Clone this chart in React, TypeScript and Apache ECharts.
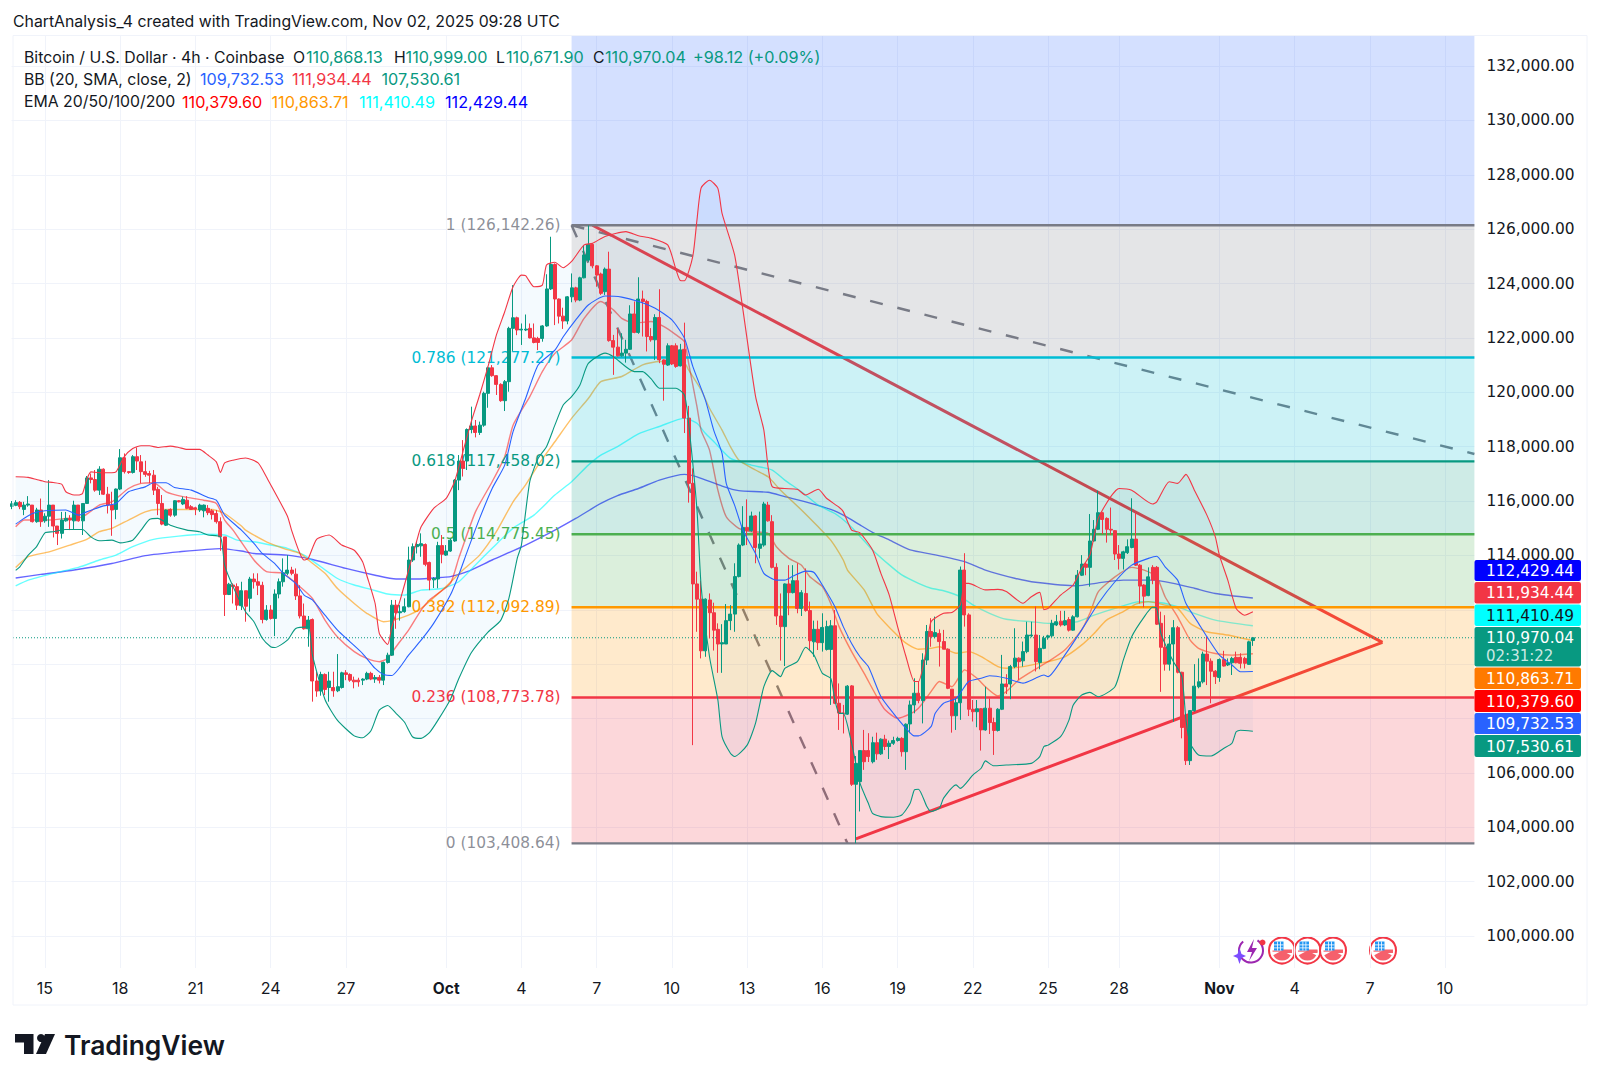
import React, { useEffect, useRef } from "react";
import * as echarts from "echarts";

const FONT = "Inter, 'Noto Sans', sans-serif";
const NUM_FONT = "'DejaVu Sans', Inter, sans-serif";
const UP = "#089981";
const DOWN = "#F23645";

// open, close, low, high — thousands of USD, one row per 4h slot
const candles: number[][] = [
[115.8,115.9,115.7,116.0],[115.84,115.94,115.81,116.03],[115.95,115.79,115.7,116.0],[115.69,115.85,115.48,115.97],[115.85,115.89,115.79,116.18],
[115.85,115.24,115.21,115.85],[115.24,115.67,115.2,115.75],[115.67,115.24,115.05,116.09],[115.27,115.44,115.2,115.55],[115.44,115.85,115.05,116.77],
[115.85,115.08,114.66,115.85],[115.08,114.81,114.38,115.08],[114.81,115.3,114.62,115.6],[115.27,115.36,115.24,115.6],[115.36,115.3,114.93,115.48],
[115.27,115.85,114.95,116.01],[115.85,115.27,115.24,115.85],[115.27,115.91,114.75,115.91],[115.91,116.85,115.89,116.92],[116.85,116.79,116.65,117.01],
[116.79,116.4,116.34,117.14],[116.4,117.17,116.22,117.28],[117.17,116.25,116.22,117.2],[116.25,115.85,115.54,116.52],[115.85,115.67,114.72,116.34],
[115.69,116.44,115.33,116.46],[116.44,117.59,116.4,117.91],[117.59,117.08,117.01,117.75],[117.08,117.05,117.0,117.1],[117.05,117.63,117.01,117.69],
[117.63,117.47,117.14,117.97],[117.44,117.08,116.65,117.69],[117.08,116.98,116.89,117.48],[117.01,116.95,116.65,117.11],[116.95,116.4,116.22,117.14],
[116.43,115.91,115.48,116.52],[115.91,115.15,115.11,116.22],[115.11,115.67,115.08,115.69],[115.69,115.48,115.42,115.73],[115.48,116.01,115.42,116.03],
[116.01,115.97,115.95,116.03],[115.89,116.06,115.85,116.16],[116.03,115.73,115.7,116.18],[115.79,115.69,115.67,115.85],[115.75,115.7,115.48,115.79],
[115.67,115.85,115.6,115.9],[115.64,115.85,115.4,115.87],[115.73,115.57,115.48,115.85],[115.64,115.5,115.32,115.7],[115.54,115.24,115.17,115.67],
[115.24,114.68,114.17,115.4],[114.68,112.56,111.77,114.68],[112.56,112.94,112.54,112.99],[112.91,112.85,112.23,112.97],[112.85,112.17,111.99,112.97],
[112.15,112.7,111.99,113.03],[112.7,112.13,111.56,112.7],[112.42,113.13,111.93,113.21],[113.13,113.03,112.78,113.34],[113.03,112.9,112.54,113.34],
[112.9,111.64,111.5,113.03],[111.64,111.99,111.6,112.17],[111.99,111.68,111.64,112.17],[111.68,112.58,111.03,112.75],[112.58,113.03,112.42,113.15],
[113.03,113.36,112.85,113.89],[113.34,113.46,113.27,114.01],[113.46,113.34,113.27,113.58],[113.31,112.51,112.36,113.52],[112.51,111.77,111.68,112.9],
[111.77,111.3,111.27,112.23],[111.3,111.62,110.64,111.77],[111.64,109.38,108.62,111.68],[109.38,109.01,108.8,109.72],[109.01,109.62,108.84,109.72],
[109.62,109.07,108.86,109.66],[109.14,109.38,108.62,109.72],[109.14,109.02,108.8,109.72],[109.02,109.17,108.97,110.37],[109.14,109.68,109.1,109.72],
[109.68,109.62,109.41,109.78],[109.62,109.41,109.35,109.66],[109.41,109.35,109.11,109.54],[109.41,109.35,109.17,109.5],[109.41,109.45,109.23,109.48],
[109.45,109.66,109.41,109.72],[109.66,109.45,109.41,109.72],[109.45,109.51,109.31,109.6],[109.51,109.41,109.29,109.6],[109.41,110.06,109.23,110.09],
[110.06,110.33,110.02,110.42],[110.33,112.17,110.3,112.36],[112.17,111.89,111.3,112.36],[111.89,111.93,111.6,112.17],[111.93,112.11,111.89,112.42],
[112.11,113.83,112.09,114.32],[113.83,114.32,113.76,114.44],[114.32,114.4,114.07,114.5],[114.35,114.43,113.95,114.81],[114.4,113.67,113.6,114.44],
[113.74,113.09,112.72,113.77],[113.1,113.15,112.8,113.2],[113.13,114.36,112.79,114.5],[114.36,114.04,113.71,114.75],[114.01,114.16,113.98,114.38],
[114.16,114.56,114.13,114.62],[114.53,116.77,114.5,116.81],[116.77,117.47,116.4,117.69],[117.47,117.2,116.9,118.24],[117.47,118.63,117.14,118.67],
[118.63,118.76,118.49,119.47],[118.76,118.52,118.34,118.98],[118.52,118.79,118.43,118.92],[118.79,119.96,118.73,120.02],[119.96,120.9,119.43,120.94],
[120.9,120.61,120.57,121.0],[120.61,120.29,119.9,120.63],[120.29,119.69,119.65,120.33],[119.69,120.39,119.31,120.45],[120.39,122.35,120.02,122.41],
[122.35,122.74,121.52,123.94],[122.74,122.29,122.1,122.78],[122.29,122.32,121.74,122.53],[122.29,122.32,122.25,122.86],[122.35,122.0,121.98,122.53],
[122.0,121.83,121.8,122.53],[121.98,121.83,121.55,122.04],[121.98,122.44,121.86,122.47],[122.44,123.8,122.41,124.34],[123.8,124.7,123.76,125.72],
[124.7,123.43,122.47,124.74],[123.43,122.8,122.53,123.45],[122.8,122.62,122.33,123.11],[122.62,123.51,122.5,123.54],[123.51,123.84,123.31,124.37],
[123.84,123.39,123.31,123.88],[123.39,124.21,123.35,124.25],[124.21,125.05,124.19,125.41],[124.86,125.44,124.8,126.14],[125.44,124.65,124.56,125.48],
[124.65,124.31,123.88,124.68],[124.35,123.64,123.58,124.4],[123.7,124.53,123.58,124.59],[124.53,121.9,121.86,125.17],[121.9,121.66,120.64,122.11],
[121.66,121.34,121.31,122.36],[121.34,121.44,121.31,122.17],[121.44,121.58,121.09,121.93],[121.58,122.88,121.56,123.2],[122.88,122.2,122.17,123.34],
[122.2,123.43,122.15,124.23],[123.43,123.34,122.05,123.74],[123.34,122.05,121.5,123.4],[122.05,121.93,121.86,122.36],[121.93,122.75,121.19,122.87],
[122.75,121.19,121.07,123.79],[121.19,121.03,119.69,121.21],[121.0,121.71,120.97,121.8],[121.71,121.04,121.0,121.74],[121.71,120.95,120.9,121.8],
[120.97,121.56,120.95,121.78],[121.58,119.05,118.5,122.56],[119.05,116.65,115.94,119.5],[116.65,112.95,107.02,117.2],[112.95,112.39,111.19,113.4],
[112.39,110.49,110.21,113.07],[110.49,112.39,110.27,112.42],[112.36,111.89,110.95,112.6],[111.89,111.25,110.5,112.26],[111.28,110.74,109.68,111.5],
[110.74,110.79,109.68,111.47],[110.74,111.6,110.74,112.21],[111.6,111.84,111.25,112.17],[111.84,113.22,111.19,113.71],[113.22,114.38,113.19,114.44],
[114.38,115.03,114.34,115.81],[115.03,114.91,114.38,116.06],[114.91,115.45,114.87,115.61],[115.45,114.29,113.71,115.48],[114.26,114.42,113.89,115.61],
[114.38,115.89,114.32,115.97],[115.85,115.27,115.24,115.97],[115.24,113.56,113.52,115.48],[113.56,111.77,111.44,113.71],[111.77,111.38,110.13,112.6],
[111.38,112.95,109.93,112.97],[112.95,112.63,111.8,113.64],[112.63,113.07,112.6,113.64],[113.07,112.05,111.87,113.71],[112.05,112.63,111.77,112.72],
[112.6,111.97,111.93,113.52],[111.97,110.86,110.52,112.3],[110.82,111.28,110.27,111.6],[111.28,110.79,110.52,111.6],[110.79,111.35,110.46,111.87],
[110.54,111.38,110.5,111.6],[110.54,111.41,108.5,111.62],[111.41,108.56,108.53,111.99],[108.56,108.2,107.58,109.29],[108.2,108.19,107.45,108.5],
[108.16,109.19,108.13,109.23],[109.2,105.58,105.52,109.23],[105.58,106.35,103.41,106.62],[105.68,106.82,104.58,106.82],[106.82,106.41,106.11,107.58],
[106.82,106.6,106.4,107.46],[106.41,107.11,106.35,107.33],[107.11,106.7,106.48,107.48],[106.7,107.24,106.66,107.27],[107.24,106.97,106.84,107.4],
[106.97,107.09,106.51,107.19],[107.09,107.19,107.03,107.33],[107.19,107.27,107.15,107.33],[107.27,106.78,106.6,107.31],[106.78,107.79,106.11,107.82],
[107.8,108.5,107.46,108.66],[108.5,108.93,108.19,109.48],[108.93,108.66,108.56,109.36],[108.66,110.15,107.82,110.4],[110.15,111.2,109.97,111.44],
[111.2,111.01,110.64,111.69],[111.01,111.16,110.95,111.75],[111.13,110.83,109.91,111.28],[110.83,110.55,110.55,111.26],[110.55,109.11,109.08,110.58],
[109.08,108.1,107.48,109.08],[108.1,108.58,107.58,108.74],[108.58,113.46,107.95,113.59],[113.46,111.81,111.38,114.08],[111.81,108.34,108.09,111.87],
[108.34,108.25,107.89,108.68],[108.25,108.36,107.68,108.68],[108.36,107.58,106.82,108.38],[107.58,108.38,107.55,109.17],[108.38,107.85,107.43,108.74],
[107.85,107.56,106.66,108.03],[107.56,108.34,107.52,108.38],[108.34,109.27,108.31,110.34],[109.27,109.17,108.9,109.63],[109.27,109.91,108.71,109.97],
[109.91,110.22,109.85,111.32],[110.22,110.09,109.42,110.25],[110.12,110.46,109.91,110.83],[110.46,111.07,110.4,111.56],[111.04,111.07,110.99,111.56],
[111.07,110.09,109.73,112.12],[110.06,110.58,109.81,111.07],[110.58,110.95,110.55,111.04],[110.99,111.04,110.9,111.08],[111.04,111.5,110.99,111.63],
[111.44,111.56,111.4,111.81],[111.58,111.44,111.38,111.96],[111.44,111.6,111.4,111.96],[111.64,111.25,111.2,111.73],[111.25,111.74,111.23,111.8],
[111.74,113.27,111.72,113.46],[113.27,113.68,113.24,114.01],[113.68,113.56,113.27,113.73],[113.56,114.53,112.85,115.52],[114.53,114.96,114.5,115.3],
[114.96,115.57,114.93,116.38],[115.57,115.32,114.78,115.6],[115.36,114.96,114.47,115.4],[114.96,114.93,114.75,115.76],[114.91,114.05,113.83,114.93],
[114.05,113.89,113.48,114.38],[113.89,114.13,113.48,114.17],[114.1,114.32,114.05,114.59],[114.29,114.6,114.26,116.1],[114.6,113.64,113.61,115.58],
[113.64,112.87,112.23,113.68],[112.91,112.5,112.09,112.94],[112.52,113.21,112.5,113.56],[113.56,113.09,112.94,113.64],[113.56,111.47,111.44,113.61],
[111.5,110.62,108.98,111.93],[110.62,110.0,109.76,111.8],[110.0,110.74,109.76,111.07],[110.74,111.34,107.88,111.62],[111.34,109.7,109.66,111.4],
[109.7,107.67,107.27,109.72],[108.13,106.45,106.29,108.19],[106.45,108.29,106.29,108.31],[108.29,109.19,108.25,110.0],[109.17,109.35,109.11,110.21],
[109.35,110.37,109.29,110.46],[110.37,110.11,109.23,111.01],[110.11,109.74,108.56,110.21],[109.74,109.54,109.27,109.78],[109.51,110.17,109.35,110.21],
[110.17,109.93,109.91,110.49],[109.97,110.05,109.93,110.21],[110.05,110.21,109.6,110.27],[110.25,110.05,110.03,110.46],[110.25,110.03,109.84,110.4],
[110.21,110.03,109.84,110.27],[109.99,110.82,109.97,110.86],[110.868,110.97,110.672,110.999],
];

const bbUpper: number[][] = [[1,116.89],[4,116.87],[6,116.79],[8,116.71],[10,116.68],[12,116.62],[13,116.34],[15,116.22],[16,116.22],[17,116.28],[18,116.79],[19,117.07],[21,117.04],[24,117.04],[25,117.07],[27,117.63],[29,117.93],[31,118.03],[33,118.03],[35,117.97],[38,118.02],[40,117.97],[42,117.9],[45,117.9],[47,117.69],[49,117.44],[50,117.05],[51,117.4],[53,117.5],[56,117.58],[59,117.4],[61,116.88],[66,115.45],[67,114.93],[69,114.07],[70,113.83],[71,113.89],[73,114.59],[76,114.75],[79,114.38],[82,114.19],[84,113.77],[85,113.27],[87,112.23],[88,111.13],[90,110.72],[91,111.37],[93,112.36],[95,113.46],[97,114.56],[98,115.05],[101,115.73],[104,116.1],[106,116.71],[108,117.81],[110,118.92],[112,119.9],[114,120.94],[116,122.1],[118,122.96],[120,123.88],[122,124.31],[123,124.29],[125,123.88],[127,123.94],[128,124.68],[130,124.78],[132,124.58],[134,124.81],[137,125.42],[139,125.48],[142,125.73],[147,125.91],[150,125.76],[153,125.67],[157,125.42],[159,124.5],[160,124.11],[161,124.1],[163,125.0],[164,126.34],[165,127.52],[167,127.8],[169,127.5],[170,126.58],[173,125.05],[175,123.03],[178,119.86],[180,118.61],[181,117.26],[182,116.53],[185,116.46],[188,116.43],[190,116.22],[193,116.43],[195,116.1],[198,115.77],[199,115.61],[201,114.93],[203,114.83],[206,114.2],[208,113.34],[210,112.54],[212,111.38],[214,110.28],[216,109.36],[217,109.36],[219,110.64],[220,111.56],[223,111.87],[225,111.9],[227,112.18],[228,112.97],[229,112.97],[233,112.73],[236,112.75],[238,112.67],[242,112.24],[244,112.48],[246,112.64],[247,112],[248,112.05],[251,112.54],[254,112.91],[256,113.52],[258,114.01],[260,115.36],[263,116.16],[265,116.46],[268,116.4],[273,115.89],[274,115.97],[277,116.71],[279,116.65],[281,116.98],[283,116.4],[286,115.48],[288,114.69],[289,114],[291,113.09],[293,112.05],[295,111.8],[297,111.93]];
const bbLower: number[][] = [[1,113.45],[2,113.58],[4,114.01],[6,114.32],[8,114.83],[10,114.87],[13,114.95],[17,114.95],[19,114.68],[21,114.54],[24,114.56],[26,114.46],[29,114.56],[31,114.93],[33,115.32],[35,115.36],[38,115.11],[42,114.93],[45,114.87],[47,114.75],[50,114.68],[51,113.64],[53,112.85],[56,111.93],[58,111.56],[60,110.95],[62,110.64],[63,110.61],[66,110.88],[68,111.31],[71,111.37],[72,110.33],[75,108.7],[78,107.93],[82,107.36],[84,107.29],[86,107.55],[88,108.31],[90,108.48],[92,108.19],[94,107.87],[96,107.32],[98,107.27],[100,107.48],[102,107.93],[105,108.7],[107,109.46],[110,110.42],[114,111.18],[117,111.6],[119,112.42],[121,113.89],[122,114.38],[124,116.71],[126,117.57],[128,118],[130,118.79],[132,119.53],[134,119.84],[136,120.27],[138,121.06],[142,121.44],[144,121.31],[149,120.76],[151,120.76],[153,120.5],[155,120.15],[159,120.15],[161,119.9],[162,118.86],[164,115.67],[165,112.85],[167,110.27],[169,108.68],[170,107.33],[172,106.72],[173,106.6],[176,107.02],[178,107.82],[180,109.17],[182,109.76],[184,109.54],[185,109.84],[188,110.09],[190,110.62],[192,110.33],[194,109.66],[196,109.48],[197,108.68],[198,108.19],[199,108.19],[201,107.09],[203,105.62],[205,104.88],[206,104.51],[208,104.39],[211,104.37],[213,104.45],[215,104.88],[216,105.37],[217,105.4],[219,104.76],[220,104.58],[222,104.7],[223,105.07],[226,105.56],[227,105.43],[230,105.92],[232,106.17],[233,106.44],[235,106.26],[238,106.29],[244,106.35],[246,106.6],[247,106.97],[248,107.02],[251,107.33],[253,107.94],[254,108.49],[256,108.86],[258,108.96],[260,108.8],[264,109.17],[266,110.15],[268,111.01],[271,111.74],[273,112.09],[274,112.05],[275,111.13],[277,110.39],[278,110.09],[280,109.54],[281,107.94],[282,107.09],[284,106.66],[287,106.62],[290,106.9],[292,107.09],[293,107.51],[294,107.57],[297,107.53]];
const bbBasis: number[][] = [[1,115.15],[3,115.36],[5,115.54],[8,115.64],[13,115.67],[16,115.48],[18,115.6],[22,115.82],[25,115.91],[28,116.34],[32,116.52],[34,116.67],[37,116.67],[39,116.5],[43,116.4],[47,116.13],[49,116.03],[51,115.48],[55,114.93],[58,114.44],[60,114.07],[63,113.7],[65,113.34],[68,112.97],[70,112.54],[72,112.36],[75,111.8],[78,111.25],[81,110.82],[84,110.39],[87,109.84],[89,109.62],[91,109.58],[93,109.9],[95,110.33],[98,110.88],[101,111.5],[105,112.54],[107,113.28],[109,114.13],[112,115.36],[115,116.46],[118,117.32],[120,118.55],[123,119.77],[126,121],[130,121.55],[132,122.04],[135,122.66],[138,123.21],[142,123.54],[146,123.5],[150,123.34],[154,123.09],[158,122.66],[161,121.99],[163,120.95],[166,119.72],[168,118.61],[170,117.75],[171,116.65],[173,115.85],[175,114.93],[178,114.07],[180,113.34],[183,113.09],[185,113.09],[187,113.24],[190,113.42],[192,113.37],[194,112.91],[197,112.11],[199,111.38],[201,110.76],[203,110.27],[205,109.91],[208,108.81],[211,108.19],[214,107.64],[216,107.36],[217,107.36],[220,107.7],[221,108.19],[223,108.56],[226,108.74],[229,109.36],[232,109.48],[234,109.57],[238,109.48],[242,109.3],[245,109.48],[247,109.6],[248,109.54],[252,110.33],[256,111.25],[260,112.23],[264,113.03],[268,113.64],[272,113.89],[274,113.97],[276,113.58],[279,113.09],[281,112.23],[284,111.5],[286,111.01],[289,110.33],[292,109.97],[294,109.72],[297,109.73]];
const ema20: number[][] = [[1,115.05],[3,115.3],[6,115.3],[9,115.3],[13,115.36],[17,115.42],[21,115.85],[24,115.97],[28,116.46],[31,116.65],[34,116.67],[37,116.34],[41,116.16],[46,116.03],[49,115.91],[51,115.3],[53,114.93],[58,113.83],[61,113.4],[65,113.34],[69,112.85],[72,112.42],[75,111.62],[78,111],[82,110.46],[85,110.21],[88,110.09],[90,110.21],[92,110.64],[95,111.25],[98,111.99],[100,112.36],[101,112.48],[105,112.97],[107,113.89],[111,115.6],[115,116.71],[118,117.63],[120,118.79],[124,119.84],[127,120.76],[130,121.43],[134,121.92],[137,122.72],[141,123.34],[144,123.03],[146,122.72],[149,122.54],[153,122.6],[156,122.42],[159,122.11],[161,121.86],[162,121.07],[164,119.47],[165,118.6],[167,117.87],[169,116.4],[171,115.42],[174,114.99],[177,114.87],[181,114.81],[183,114.32],[186,113.89],[189,113.64],[191,113.21],[194,112.85],[196,112.23],[198,111.38],[201,110.46],[204,109.66],[207,108.81],[209,108.32],[212,108.01],[215,108.17],[217,108.38],[220,108.99],[222,109.36],[225,109.17],[228,109.79],[231,109.48],[233,109.17],[236,108.83],[238,108.99],[241,109.42],[244,109.72],[248,110.09],[252,110.52],[256,111.25],[258,111.87],[260,112.66],[264,113.21],[268,113.56],[271,113.46],[274,113.21],[276,112.48],[279,111.74],[282,110.88],[284,110.58],[288,110.39],[292,110.33],[297,110.38]];
const ema50: number[][] = [[1,113.55],[4,113.95],[9,114.13],[14,114.38],[18,114.59],[21,114.87],[24,114.99],[28,115.3],[32,115.6],[35,115.69],[40,115.69],[48,115.69],[51,115.54],[55,115.08],[56,114.93],[61,114.5],[65,114.26],[69,114.07],[71,113.83],[75,113.34],[78,112.78],[82,112.23],[85,111.87],[89,111.56],[91,111.6],[95,111.8],[98,112.05],[103,112.72],[108,113.46],[112,114.01],[116,114.87],[120,115.97],[123,116.59],[126,117.32],[130,118.18],[134,119.04],[138,119.77],[141,120.39],[146,120.58],[151,121.01],[155,121.13],[161,121.07],[162,120.82],[165,120.09],[167,119.41],[170,118.61],[172,118],[174,117.51],[178,117.14],[181,116.89],[184,116.4],[189,115.67],[193,115.05],[196,114.56],[199,113.83],[200,113.46],[204,112.73],[207,111.87],[211,111.2],[214,110.77],[217,110.55],[220,110.58],[222,110.64],[226,110.4],[229,110.46],[232,110.28],[236,109.91],[238,109.85],[242,109.91],[246,110.03],[248,110.09],[252,110.27],[256,110.7],[259,111.13],[262,111.62],[266,111.93],[269,112.21],[272,112.3],[276,112.17],[279,112.05],[282,111.5],[286,111.19],[291,111.07],[297,110.86]];
const ema100: number[][] = [[1,112.88],[4,113.09],[10,113.34],[16,113.56],[21,113.83],[25,114.01],[29,114.32],[34,114.59],[40,114.71],[46,114.78],[51,114.75],[54,114.56],[58,114.5],[62,114.38],[66,114.26],[70,114.01],[74,113.58],[78,113.15],[82,112.91],[86,112.75],[90,112.58],[94,112.54],[98,112.72],[103,112.78],[107,113.03],[111,113.65],[115,114.26],[120,115],[125,115.48],[130,116.22],[134,116.71],[138,117.32],[141,117.69],[145,118],[150,118.47],[155,118.74],[161,119.05],[164,118.86],[166,118.49],[168,118.19],[172,117.57],[177,117.32],[182,117.14],[185,116.77],[189,116.34],[193,115.85],[197,115.54],[200,115.18],[202,114.87],[206,114.2],[210,113.65],[213,113.28],[217,112.97],[220,112.79],[223,112.7],[227,112.48],[230,112.18],[234,111.87],[238,111.65],[244,111.56],[248,111.5],[255,111.56],[259,111.8],[264,112.05],[270,112.3],[275,112.26],[279,112.11],[283,111.87],[288,111.62],[297,111.41]];
const ema200: number[][] = [[1,113.17],[7,113.3],[15,113.46],[24,113.7],[32,113.99],[40,114.13],[50,114.25],[55,114.16],[58,114.07],[66,114.01],[72,113.85],[80,113.52],[87,113.27],[92,113.13],[97,113.13],[103,113.19],[105,113.22],[109,113.4],[115,113.83],[123,114.38],[130,114.93],[135,115.36],[141,115.91],[145,116.2],[150,116.46],[155,116.77],[161,116.98],[164,116.89],[170,116.55],[174,116.38],[181,116.32],[185,116.16],[190,115.97],[196,115.69],[200,115.4],[203,115.12],[206,114.85],[210,114.57],[215,114.2],[221,114.02],[228,113.77],[233,113.46],[240,113.16],[245,113.01],[255,112.88],[260,112.99],[266,113.09],[273,113.09],[278,112.97],[283,112.79],[288,112.6],[297,112.43]];

// Fibonacci retracement levels
const fibLevels = ["1", "0.786", "0.618", "0.5", "0.382", "0.236", "0"];
const fibPrices = [126142.26, 121277.27, 117458.02, 114775.45, 112092.89, 108773.78, 103408.64];
const fibColors = ["#787B86", "#00BCD4", "#089981", "#4CAF50", "#FF9800", "#F23645", "#787B86"];
const fibBandColors = ["#787B86", "#00BCD4", "#089981", "#4CAF50", "#FF9800", "#F23645"];
const fibTopBandColor = "#2962FF";
const fibStartIndex = 134;

// drawings: [slot index, price]
const fibDiagonal = [[134, 126142], [200, 103408]];
const dashedRay = [[134, 126142], [350, 117730]];
const triangleUpper = [[139, 126142], [328, 110800]];
const triangleLower = [[202, 103570], [328, 110800]];

const lastPrice = 110970.04;

const xTickIndex = [8, 26, 44, 62, 80, 104, 122, 140, 158, 176, 194, 212, 230, 248, 265, 289, 307, 325, 343];
const xTickLabels = ["15", "18", "21", "24", "27", "Oct", "4", "7", "10", "13", "16", "19", "22", "25", "28", "Nov", "4", "7", "10"];
const slotCount = 351;
const yTicks = [100000, 102000, 104000, 106000, 108000, 110000, 112000, 114000, 116000, 118000, 120000, 122000, 124000, 126000, 128000, 130000, 132000];
// 108,000 / 110,000 / 112,000 sit behind the price tags in the reference
const yTickLabels = [100000, 102000, 104000, 106000, 114000, 116000, 118000, 120000, 122000, 124000, 126000, 128000, 130000, 132000];
const yMin = 98823;
const yMax = 133104;

const priceTags = [
  { text: "112,429.44", color: "#0000FF", ink: "#FFFFFF", top: 560, bottom: 581 },
  { text: "111,934.44", color: "#F23645", ink: "#FFFFFF", top: 582, bottom: 603.5 },
  { text: "111,410.49", color: "#00FFFF", ink: "#131722", top: 604.5, bottom: 626 },
  { text: "110,970.04", color: "#089981", ink: "#FFFFFF", top: 627, bottom: 666.5, extra: "02:31:22" },
  { text: "110,863.71", color: "#FF7A00", ink: "#FFFFFF", top: 667.5, bottom: 689 },
  { text: "110,379.60", color: "#FF0000", ink: "#FFFFFF", top: 690, bottom: 712 },
  { text: "109,732.53", color: "#2962FF", ink: "#FFFFFF", top: 713, bottom: 734 },
  { text: "107,530.61", color: "#089981", ink: "#FFFFFF", top: 735, bottom: 757 },
];

const legendRow1 = [
  { x: 24, label: "Bitcoin / U.S. Dollar · 4h · Coinbase", value: "", gap: 0 },
  { x: 293, label: "O", value: "110,868.13", gap: 13 },
  { x: 394, label: "H", value: "110,999.00", gap: 11.6 },
  { x: 496, label: "L", value: "110,671.90", gap: 10 },
  { x: 593, label: "C", value: "110,970.04", gap: 12 },
  { x: 693, label: "", value: "+98.12 (+0.09%)", gap: 0 },
];
const legendRow2 = [
  { x: 200, value: "109,732.53", color: "#2962FF" },
  { x: 292, value: "111,934.44", color: "#F23645" },
  { x: 381.5, value: "107,530.61", color: "#089981" },
];
const legendRow3 = [
  { x: 182, value: "110,379.60", color: "#FF0000" },
  { x: 271.5, value: "110,863.71", color: "#FF9800" },
  { x: 359, value: "111,410.49", color: "#00FFFF" },
  { x: 445, value: "112,429.44", color: "#0000FF" },
];

const flagCenters = [1282, 1307.5, 1333, 1383];

const k = (rows: number[][]) => rows.map(([i, v]) => [i, v * 1000]);

function flag(cx: number, cy: number) {
  const r = 13;
  return {
    type: "group",
    x: cx,
    y: cy,
    z: 50,
    children: [
      { type: "circle", shape: { cx: 0, cy: 0, r }, style: { fill: "#FFFFFF", stroke: "#F23645", lineWidth: 2 } },
      { type: "sector", shape: { cx: 0, cy: 0, r: 10, r0: 0, startAngle: 0.5, endAngle: Math.PI - 0.5 }, style: { fill: "#F5606C" } },
      { type: "rect", shape: { x: 0, y: -1, width: 10, height: 3.5 }, style: { fill: "#F5606C" } },
      { type: "rect", shape: { x: -9.5, y: 0, width: 19.5, height: 1.2 }, style: { fill: "#F5606C" } },
      { type: "rect", shape: { x: -8, y: -9, width: 9.5, height: 9 }, style: { fill: "#2196F3" } },
      { type: "rect", shape: { x: -8, y: -6, width: 9.5, height: 0.8 }, style: { fill: "#FFFFFF" } },
      { type: "rect", shape: { x: -8, y: -3, width: 9.5, height: 0.8 }, style: { fill: "#FFFFFF" } },
      { type: "rect", shape: { x: -5, y: -9, width: 0.8, height: 9 }, style: { fill: "#FFFFFF" } },
      { type: "rect", shape: { x: -2, y: -9, width: 0.8, height: 9 }, style: { fill: "#FFFFFF" } },
    ],
  };
}

function App() {
  const ref = useRef<HTMLDivElement>(null);
  useEffect(() => {
    const chart = echarts.init(ref.current!, undefined, { renderer: "svg" });
    const up = UP;
    const line = (rows: number[][], color: string, width: number, opacity: number, z: number) => ({
      type: "line",
      data: k(rows),
      showSymbol: false,
      symbol: "none",
      smooth: 0.2,
      z,
      silent: true,
      lineStyle: { color, width, opacity },
    });
    const drawing = (points: number[][], color: string, width: number, dash?: number[]) => ({
      type: "line",
      data: points,
      showSymbol: false,
      symbol: "none",
      z: 2,
      silent: true,
      lineStyle: { color, width, type: dash || "solid" },
    });
    const plain = (x: number, y: number, text: string, fill: string, font: string) => ({
      type: "text", z: 60, x, y, style: { text, font, fill, verticalAlign: "middle" },
    });
    const legendFont = `15.8px ${FONT}`;
    const legendNum = `16.2px ${FONT}`;
    const option: any = {
      animation: false,
      backgroundColor: "#FFFFFF",
      grid: { left: 11.5, right: 125.6, top: 36, bottom: 116, containLabel: false },
      xAxis: {
        type: "category",
        data: Array.from({ length: slotCount }, (_, i) => String(i)),
        boundaryGap: false,
        axisLine: { show: false },
        axisTick: { show: false },
        splitLine: {
          show: true,
          interval: (i: number) => xTickIndex.includes(i),
          lineStyle: { color: "#F0F3FA", width: 1 },
        },
        axisLabel: {
          interval: (i: number) => xTickIndex.includes(i),
          margin: 12,
          fontFamily: FONT,
          fontSize: 16,
          color: "#131722",
          formatter: (_: string, i: number) => {
            const t = xTickLabels[xTickIndex.indexOf(i)] ?? "";
            return t === "Oct" || t === "Nov" ? `{b|${t}}` : t;
          },
          rich: { b: { fontFamily: FONT, fontSize: 15.5, fontWeight: 700, color: "#131722" } },
        },
      },
      yAxis: {
        type: "value",
        position: "right",
        min: yMin,
        max: yMax,
        scale: true,
        axisLine: { show: false },
        axisTick: { show: false, customValues: yTicks },
        splitLine: { show: true, lineStyle: { color: "#F0F3FA", width: 1 } },
        axisLabel: {
          customValues: yTickLabels,
          margin: 12,
          fontFamily: NUM_FONT,
          fontSize: 15.4,
          color: "#131722",
          formatter: (v: number) => v.toLocaleString("en-US", { minimumFractionDigits: 2, maximumFractionDigits: 2 }),
        },
      },
      series: [
        {
          type: "custom",
          z: 1,
          silent: true,
          data: [[0, yMin]],
          renderItem: (_: any, api: any) => {
            const pts = [
              ...bbUpper.map(([i, v]) => api.coord([i, v * 1000])),
              ...[...bbLower].reverse().map(([i, v]) => api.coord([i, v * 1000])),
            ];
            return { type: "polygon", shape: { points: pts }, style: { fill: "rgba(33,150,243,0.05)" } };
          },
        },
        line(ema200, "#0000FF", 1.4, 0.6, 2),
        line(ema100, "#00FFFF", 1.4, 0.6, 2),
        line(ema50, "#FF9800", 1.4, 0.6, 2),
        line(ema20, "#FF0000", 1.4, 0.5, 2),
        drawing(fibDiagonal, "#787B86", 2.4, [13, 15]),
        drawing(dashedRay, "#787B86", 2.4, [13, 15]),
        drawing(triangleUpper, "#F23645", 3),
        drawing(triangleLower, "#F23645", 3),
        {
          type: "custom",
          z: 3,
          silent: true,
          data: [[0, yMin]],
          renderItem: (_: any, api: any) => {
            const right = api.coord([slotCount - 1, yMax]);
            const children: any[] = [];
            const xs = api.coord([fibStartIndex, yMax])[0];
            children.push({
              type: "rect",
              shape: { x: xs, y: right[1], width: right[0] - xs, height: api.coord([0, fibPrices[0]])[1] - right[1] },
              style: { fill: fibTopBandColor, opacity: 0.2 },
            });
            fibBandColors.forEach((c, i) => {
              const a = api.coord([0, fibPrices[i]])[1];
              const b = api.coord([0, fibPrices[i + 1]])[1];
              children.push({ type: "rect", shape: { x: xs, y: a, width: right[0] - xs, height: b - a }, style: { fill: c, opacity: 0.2 } });
            });
            fibPrices.forEach((p, i) => {
              const y = api.coord([0, p])[1];
              children.push({ type: "line", shape: { x1: xs, y1: y, x2: right[0], y2: y }, style: { stroke: fibColors[i], lineWidth: 2.4 } });
              children.push({
                type: "text",
                style: {
                  x: xs - 11,
                  y,
                  text: `${fibLevels[i]} (${p.toLocaleString("en-US", { minimumFractionDigits: 2 })})`,
                  fill: fibColors[i],
                  font: `15.4px ${NUM_FONT}`,
                  align: "right",
                  verticalAlign: "middle",
                  opacity: i === 0 || i === 6 ? 0.85 : 1,
                },
              });
            });
            const ly = api.coord([0, lastPrice])[1];
            children.push({
              type: "line",
              shape: { x1: 13, y1: ly, x2: right[0], y2: ly },
              style: { stroke: up, lineWidth: 1, lineDash: [1, 2] },
            });
            return { type: "group", children };
          },
        },
        {
          type: "candlestick",
          z: 4,
          silent: true,
          barWidth: 3.5,
          data: candles.map((c) => c.map((v) => v * 1000)),
          itemStyle: { color: UP, color0: DOWN, borderColor: UP, borderColor0: DOWN, borderWidth: 1 },
        },
        line(bbUpper, "#F23645", 1.1, 1, 5),
        line(bbLower, "#089981", 1.1, 1, 5),
        line(bbBasis, "#2962FF", 1.1, 1, 5),
      ],
      graphic: {
        elements: [
          { type: "rect", z: 40, shape: { x: 13, y: 35.5, width: 1574, height: 969.5 }, style: { fill: "none", stroke: "#F0F3FA", lineWidth: 1 } },
          plain(13, 21, "ChartAnalysis_4 created with TradingView.com, Nov 02, 2025 09:28 UTC", "#131722", `15.8px ${FONT}`),
          ...legendRow1.flatMap((s) => {
            const out: any[] = [];
            if (s.label) out.push(plain(s.x, 57, s.label, "#131722", legendFont));
            if (s.value) out.push(plain(s.x + s.gap, 57, s.value, UP, legendNum));
            return out;
          }),
          plain(24, 79, "BB (20, SMA, close, 2)", "#131722", legendFont),
          ...legendRow2.map((s) => plain(s.x, 79, s.value, s.color, legendNum)),
          plain(24, 101.5, "EMA 20/50/100/200", "#131722", legendFont),
          ...legendRow3.map((s) => plain(s.x, 101.5, s.value, s.color, legendNum)),
          ...priceTags.flatMap((t) => {
            const h = (t as any).extra ? 20.5 : t.bottom - t.top;
            const out: any[] = [
              { type: "rect", z: 70, shape: { x: 1474.5, y: t.top, width: 106.5, height: t.bottom - t.top, r: 2 }, style: { fill: t.color } },
              { type: "text", z: 71, x: 1486, y: t.top + h / 2 + 0.5, style: { text: t.text, font: `15.4px ${NUM_FONT}`, fill: t.ink, verticalAlign: "middle" } },
            ];
            if ((t as any).extra) {
              out.push({ type: "text", z: 71, x: 1486, y: t.top + 28.5, style: { text: (t as any).extra, font: `15px ${NUM_FONT}`, fill: "rgba(255,255,255,0.8)", verticalAlign: "middle" } });
            }
            return out;
          }),
          ...flagCenters.map((c) => flag(c, 950.5)),
          { type: "arc", z: 50, shape: { cx: 1251, cy: 950.5, r: 12, startAngle: -1.0, endAngle: 4.0 }, style: { stroke: "#9C27B0", fill: "none", lineWidth: 2 } },
          { type: "polygon", z: 51, shape: { points: [[1254, 939], [1247, 952], [1252, 952], [1249, 961], [1257, 948], [1252, 948]] }, style: { fill: "#9C27B0" } },
          { type: "polygon", z: 51, shape: { points: [[1239.5, 948], [1241.5, 954], [1246, 956], [1241.5, 958], [1239.5, 964], [1237.5, 958], [1233, 956], [1237.5, 954]] }, style: { fill: "#7C4DFF" } },
          { type: "circle", z: 52, shape: { cx: 1262.5, cy: 942.5, r: 3 }, style: { fill: "#F23645" } },
          { type: "polygon", z: 60, shape: { points: [[15, 1034], [33.5, 1034], [33.5, 1054], [24, 1054], [24, 1042.5], [15, 1042.5]] }, style: { fill: "#131722" } },
          { type: "circle", z: 60, shape: { cx: 41, cy: 1038, r: 4 }, style: { fill: "#131722" } },
          { type: "polygon", z: 60, shape: { points: [[45, 1034], [55, 1034], [46, 1054], [36, 1054]] }, style: { fill: "#131722" } },
          plain(64, 1045, "TradingView", "#131722", `600 26.4px ${FONT}`),
        ],
      },
    };
    chart.setOption(option);
    return () => chart.dispose();
  }, []);
  return <div ref={ref} style={{ position: "absolute", left: 0, top: 0, width: 1600, height: 1084 }} />;
}

export default App;
